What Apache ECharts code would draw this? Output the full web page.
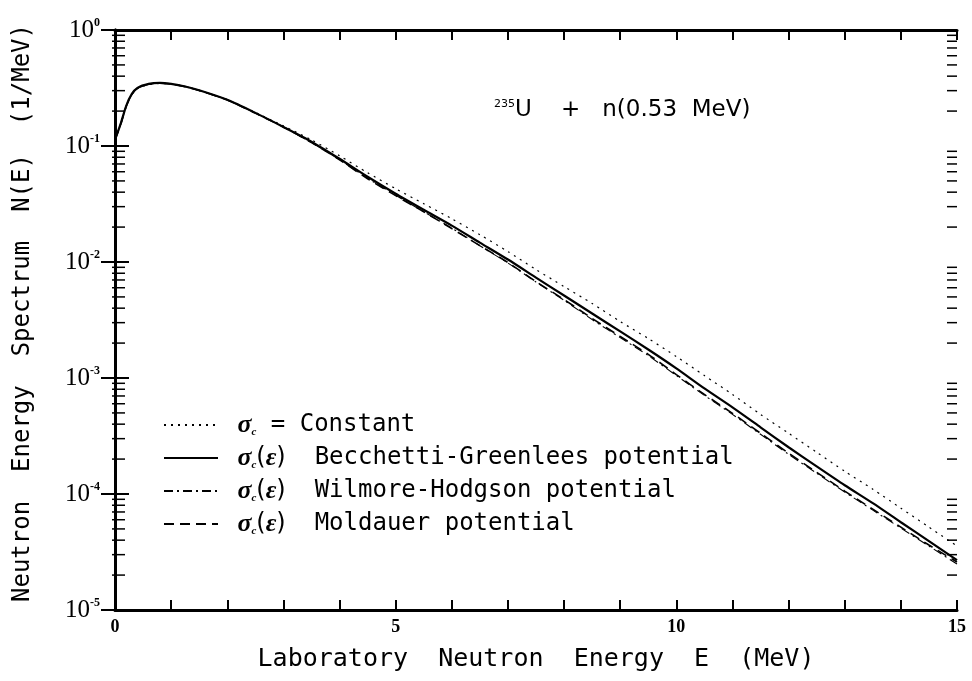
<!DOCTYPE html>
<html><head><meta charset="utf-8">
<script src="https://cdn.jsdelivr.net/npm/echarts@6/dist/echarts.min.js"></script>
<style>html,body{margin:0;padding:0;background:#fff}#c{width:972px;height:681px}</style>
</head><body><div id="c"></div>
<script>
// Laboratory neutron energy E (MeV)
const energies = [0,0.1,0.2,0.3,0.4,0.6,0.8,1.0,1.25,1.5,2.0,2.5,3.0,3.5,4.0,4.5,5.0,5.5,6.0,6.5,7.0,7.5,8.0,8.5,9.0,9.5,10.0,10.5,11.0,11.5,12.0,12.5,13.0,13.5,14.0,14.5,15.0];
// N(E) (1/MeV)
const constantVals = [0.113,0.155,0.220,0.278,0.312,0.338,0.346,0.341,0.325,0.302,0.251,0.195,0.149,0.113,0.0824,0.0588,0.0428,0.0318,0.0236,0.0172,0.0123,0.00861,0.00614,0.00439,0.00307,0.00219,0.00153,0.00105,7.22e-4,4.86e-4,3.34e-4,2.29e-4,1.57e-4,1.10e-4,7.55e-5,5.18e-5,3.56e-5];
const becchettiVals = [0.113,0.155,0.222,0.281,0.317,0.343,0.350,0.343,0.326,0.302,0.250,0.193,0.146,0.109,0.0776,0.0543,0.0388,0.0282,0.0206,0.0147,0.0105,0.00734,0.00514,0.00360,0.00252,0.00176,0.00121,8.13e-4,5.58e-4,3.76e-4,2.53e-4,1.73e-4,1.19e-4,8.33e-5,5.71e-5,3.93e-5,2.69e-5];
const wilmoreVals = [0.113,0.153,0.220,0.279,0.315,0.341,0.348,0.342,0.325,0.301,0.249,0.192,0.146,0.1069,0.0761,0.0527,0.0376,0.0271,0.0196,0.0138,0.00980,0.00672,0.00468,0.00319,0.00223,0.00156,0.00105,7.08e-4,4.86e-4,3.27e-4,2.20e-4,1.51e-4,1.04e-4,7.26e-5,5.08e-5,3.56e-5,2.49e-5];
const moldauerVals = [0.113,0.153,0.220,0.279,0.315,0.341,0.348,0.342,0.325,0.301,0.249,0.192,0.146,0.1069,0.0761,0.0522,0.0373,0.0271,0.0194,0.01385,0.00989,0.00678,0.00475,0.00326,0.00228,0.00160,0.00107,7.22e-4,4.96e-4,3.34e-4,2.25e-4,1.54e-4,1.06e-4,7.40e-5,5.18e-5,3.63e-5,2.59e-5];

const seriesNames = ['σc = Constant','σc(ε) Becchetti-Greenlees potential','σc(ε) Wilmore-Hodgson potential','σc(ε) Moldauer potential'];
const legendRich = {
  'σc = Constant': '{g|σ}{s|c} = Constant',
  'σc(ε) Becchetti-Greenlees potential': '{g|σ}{s|c}{p|(}{g|ε}{p|)}  Becchetti-Greenlees potential',
  'σc(ε) Wilmore-Hodgson potential': '{g|σ}{s|c}{p|(}{g|ε}{p|)}  Wilmore-Hodgson potential',
  'σc(ε) Moldauer potential': '{g|σ}{s|c}{p|(}{g|ε}{p|)}  Moldauer potential'
};
const xTickLabels = ['0','5','10','15'];

function pts(arr){ return energies.map((e,i)=>[e, arr[i]]); }

const chart = echarts.init(document.getElementById('c'));
const axisLineStyle = {color:'#000', width:3};

chart.setOption({
  animation:false,
  backgroundColor:'#fff',
  grid:{left:115, right:15, top:30, bottom:71},
  xAxis:[{
    type:'value', min:0, max:15, interval:1,
    axisLine:{lineStyle:axisLineStyle},
    axisTick:{inside:true, length:10, lineStyle:{color:'#000', width:2}},
    axisLabel:{formatter:v=> (xTickLabels.indexOf(String(v))>=0 ? String(v) : ''), fontFamily:'Liberation Serif', fontWeight:'bold', fontSize:18, color:'#000', margin:8},
    splitLine:{show:false},
    name:'Laboratory  Neutron  Energy  E  (MeV)', nameLocation:'middle', nameGap:37,
    nameTextStyle:{fontFamily:'DejaVu Sans Mono', fontSize:25, color:'#000'}
  },{
    type:'value', position:'top', min:0, max:15, interval:1,
    axisLine:{lineStyle:axisLineStyle},
    axisTick:{inside:true, length:10, lineStyle:{color:'#000', width:2}},
    axisLabel:{show:false}, splitLine:{show:false}
  }],
  yAxis:[{
    type:'log', logBase:10, min:1e-5, max:1, splitNumber:5,
    axisLine:{lineStyle:axisLineStyle},
    axisTick:{inside:true, length:14, lineStyle:{color:'#000', width:2}},
    axisLabel:{
      formatter:v=>{const e=Math.round(Math.log10(v)); return '{b|10}{e|'+(e===0?'0':'-'+(-e))+'}';},
      margin:15,
      rich:{
        b:{fontFamily:'Liberation Serif', fontSize:25, color:'#000', lineHeight:26, verticalAlign:'bottom'},
        e:{fontFamily:'Liberation Serif', fontSize:12, fontWeight:'bold', color:'#000', lineHeight:26, verticalAlign:'top', padding:[0,0,14,0]}
      }
    },
    splitLine:{show:false},
    name:'Neutron  Energy  Spectrum  N(E)  (1/MeV)', nameLocation:'middle', nameGap:80, nameRotate:90,
    nameTextStyle:{fontFamily:'DejaVu Sans Mono', fontSize:24, color:'#000', padding:[0,0,0,14]}
  },{
    type:'log', logBase:10, min:1e-5, max:1, splitNumber:5, position:'right',
    axisLine:{lineStyle:axisLineStyle},
    axisTick:{inside:true, length:14, lineStyle:{color:'#000', width:2}},
    axisLabel:{show:false}, splitLine:{show:false}
  }],
  legend:{
    orient:'vertical', left:158, top:407, itemWidth:54, itemHeight:14, itemGap:7,
    data:seriesNames,
    itemStyle:{opacity:0},
    formatter:n=>' '+legendRich[n],
    textStyle:{fontFamily:'DejaVu Sans Mono', fontSize:24, color:'#000',
      rich:{
        g:{fontFamily:'Liberation Serif', fontStyle:'italic', fontWeight:'bold', fontSize:26, color:'#000'},
        s:{fontFamily:'Liberation Serif', fontStyle:'italic', fontWeight:'bold', fontSize:11, color:'#000', verticalAlign:'bottom', lineHeight:10},
        p:{fontFamily:'DejaVu Sans', fontSize:24, color:'#000'}
      }
    }
  },
  series:[
    {name:seriesNames[0], type:'line', data:pts(constantVals), symbol:'none', smooth:0.25, z:3,
      itemStyle:{color:'#000'}, lineStyle:{color:'#000', width:1.2, type:[2,5]}},
    {name:seriesNames[1], type:'line', data:pts(becchettiVals), symbol:'none', smooth:0.25, z:4,
      itemStyle:{color:'#000'}, lineStyle:{color:'#000', width:2.2}},
    {name:seriesNames[2], type:'line', data:pts(wilmoreVals), symbol:'none', smooth:0.25, z:2,
      itemStyle:{color:'#000'}, lineStyle:{color:'#000', width:1.1, type:[9,4,2,4]}},
    {name:seriesNames[3], type:'line', data:pts(moldauerVals), symbol:'none', smooth:0.25, z:2,
      itemStyle:{color:'#000'}, lineStyle:{color:'#000', width:1.6, type:[10,6]}}
  ],
  graphic:[{
    id:'annot', type:'text', left:494, top:99,
    style:{
      text:'{sup|235}U    +   n(0.53  MeV)',
      font:'23px "DejaVu Sans"', fill:'#000',
      rich:{sup:{fontFamily:'DejaVu Sans', fontSize:11, fill:'#000', verticalAlign:'top', lineHeight:23, padding:[0,0,12,0]}}
    }
  }]
});

// logarithmic minor ticks on left and right axes
const xL = chart.convertToPixel({xAxisIndex:0}, 0);
const xR = chart.convertToPixel({xAxisIndex:0}, 15);
const minor = [];
for (let d=-5; d<0; d++) {
  for (let k=2; k<=9; k++) {
    const y = chart.convertToPixel({yAxisIndex:0}, k*Math.pow(10,d));
    minor.push({type:'line', silent:true, shape:{x1:xL-3, y1:y, x2:xL+10, y2:y}, style:{stroke:'#000', lineWidth:1.5}});
    minor.push({type:'line', silent:true, shape:{x1:xR-10, y1:y, x2:xR, y2:y}, style:{stroke:'#000', lineWidth:1.5}});
  }
}
chart.setOption({graphic: minor.map((m,i)=>Object.assign({id:'m'+i}, m))});
</script></body></html>
